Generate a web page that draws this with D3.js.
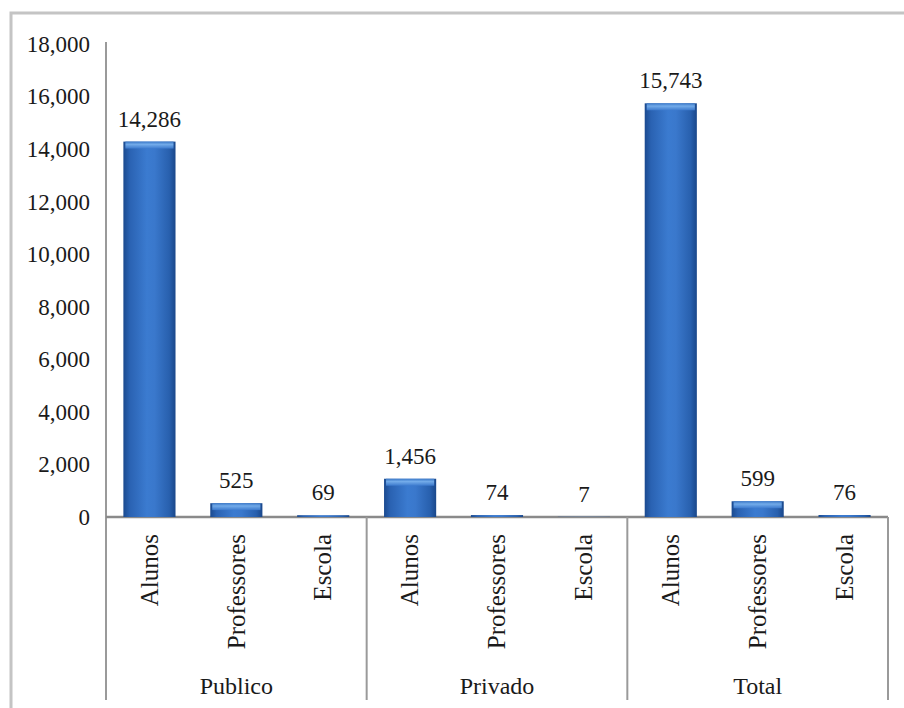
<!DOCTYPE html>
<html>
<head>
<meta charset="utf-8">
<script src="https://cdn.jsdelivr.net/npm/d3@7"></script>
<style>
  html, body { margin: 0; padding: 0; background: #fff; }
  svg { display: block; }
  text { font-family: "Liberation Serif", "Times New Roman", serif; fill: #1a1a1a; }
</style>
</head>
<body>
<svg id="chart" width="904" height="708"></svg>
<script>
// ---- Data ----
const groups = ["Publico", "Privado", "Total"];
const categories = ["Alunos", "Professores", "Escola"];
const publicoValues = [14286, 525, 69];
const privadoValues = [1456, 74, 7];
const totalValues = [15743, 599, 76];
const yTicks = [0, 2000, 4000, 6000, 8000, 10000, 12000, 14000, 16000, 18000];

const seriesByGroup = { "Publico": publicoValues, "Privado": privadoValues, "Total": totalValues };
const rows = [];
groups.forEach(g => categories.forEach((c, i) => rows.push({ group: g, cat: c, value: seriesByGroup[g][i] })));

// ---- Layout ----
const svg = d3.select("#chart");
const W = 904, H = 708;
const plotLeft = 106, plotRight = 888, yTop = 44, yZero = 517, bottomY = 700;

svg.append("rect").attr("x", 0).attr("y", 0).attr("width", W).attr("height", H).attr("fill", "#fff");
// outer chart border (extends past right/bottom edge)
svg.append("rect").attr("x", 11).attr("y", 13).attr("width", W + 20).attr("height", H + 20)
  .attr("fill", "none").attr("stroke", "#c4c4c4").attr("stroke-width", 3);

const y = d3.scaleLinear().domain([0, 18000]).range([yZero, yTop]);
const x0 = d3.scaleBand().domain(groups).range([plotLeft, plotRight]).padding(0);
const x1 = d3.scaleBand().domain(categories).range([0, x0.bandwidth()]).paddingInner(0.4).paddingOuter(0.2);

// gradients
const defs = svg.append("defs");
const grad = defs.append("linearGradient").attr("id", "barGrad").attr("x1", "0").attr("x2", "1").attr("y1", "0").attr("y2", "0");
[["0%", "#1b4a8f"], ["12%", "#2a62b2"], ["45%", "#3b7bd0"], ["60%", "#3a78cc"], ["88%", "#2860ae"], ["100%", "#1a478a"]]
  .forEach(([o, c]) => grad.append("stop").attr("offset", o).attr("stop-color", c));
const capGrad = defs.append("linearGradient").attr("id", "capGrad").attr("x1", "0").attr("x2", "0").attr("y1", "0").attr("y2", "1");
[["0%", "#3a78c8"], ["40%", "#7ab2ee"], ["100%", "#3d7bcf"]]
  .forEach(([o, c]) => capGrad.append("stop").attr("offset", o).attr("stop-color", c));

// y axis
const yAxis = d3.axisLeft(y).tickValues(yTicks).tickSize(0).tickPadding(16).tickFormat(d3.format(","));
const gy = svg.append("g").attr("transform", `translate(${plotLeft},0)`).call(yAxis);
gy.select(".domain").remove();
gy.selectAll("text").style("font-size", "23px").attr("fill", "#1a1a1a")
  .style("font-family", '"Liberation Serif", serif');

// axis lines
svg.append("line").attr("x1", plotLeft).attr("x2", plotLeft).attr("y1", 42).attr("y2", bottomY)
  .attr("stroke", "#9a9a9a").attr("stroke-width", 2);
svg.append("line").attr("x1", plotLeft).attr("x2", plotRight).attr("y1", yZero).attr("y2", yZero)
  .attr("stroke", "#8a8a8a").attr("stroke-width", 2.5);
// group separators
groups.forEach(g => {
  const xr = x0(g) + x0.bandwidth();
  svg.append("line").attr("x1", xr).attr("x2", xr).attr("y1", yZero).attr("y2", bottomY)
    .attr("stroke", "#9a9a9a").attr("stroke-width", 2);
});

// bars
const barG = svg.append("g");
const bars = barG.selectAll("g.bar").data(rows).join("g").attr("class", "bar");
bars.append("rect")
  .attr("x", d => x0(d.group) + x1(d.cat))
  .attr("y", d => y(d.value))
  .attr("width", x1.bandwidth())
  .attr("height", d => yZero - y(d.value))
  .attr("fill", "url(#barGrad)");
bars.filter(d => yZero - y(d.value) > 4).append("rect")
  .attr("x", d => x0(d.group) + x1(d.cat) + 2)
  .attr("y", d => y(d.value))
  .attr("width", x1.bandwidth() - 4)
  .attr("height", d => Math.min(7, (yZero - y(d.value)) * 0.5))
  .attr("fill", "url(#capGrad)")
  .attr("opacity", 0.9);

// value labels
svg.append("g").selectAll("text").data(rows).join("text")
  .attr("x", d => x0(d.group) + x1(d.cat) + x1.bandwidth() / 2)
  .attr("y", d => y(d.value) - 15)
  .attr("text-anchor", "middle")
  .style("font-size", "23px")
  .text(d => d3.format(",")(d.value));

// category labels (rotated)
svg.append("g").selectAll("text").data(rows).join("text")
  .attr("transform", d => `translate(${x0(d.group) + x1(d.cat) + x1.bandwidth() / 2},534) rotate(-90)`)
  .attr("text-anchor", "end")
  .attr("dy", "0.33em")
  .style("font-size", "25px")
  .text(d => d.cat);

// group labels
svg.append("g").selectAll("text").data(groups).join("text")
  .attr("x", g => x0(g) + x0.bandwidth() / 2)
  .attr("y", 694)
  .attr("text-anchor", "middle")
  .style("font-size", "24px")
  .text(g => g);
</script>
</body>
</html>
